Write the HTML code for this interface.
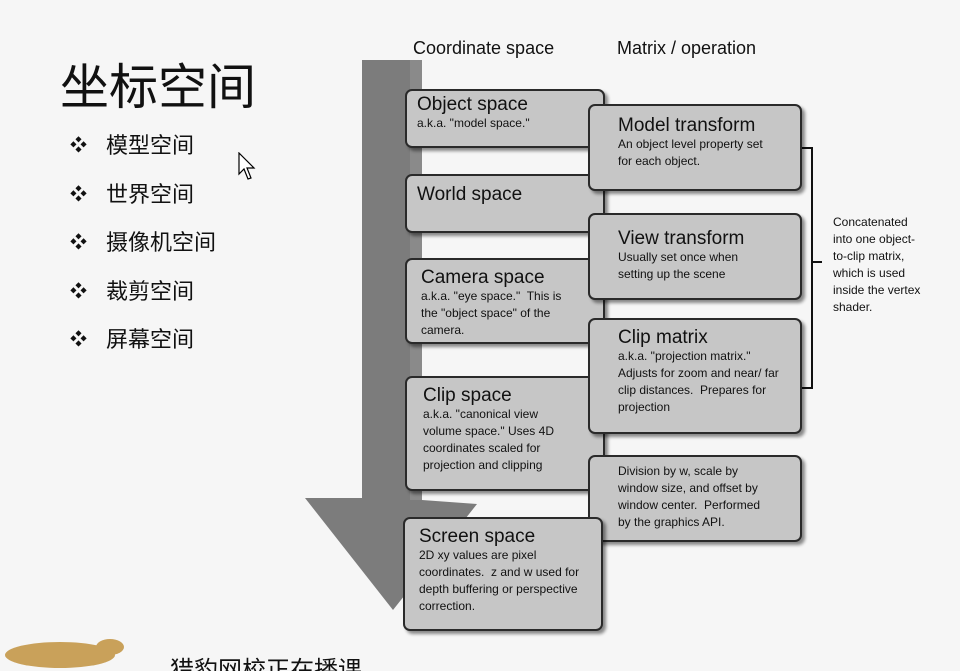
<!DOCTYPE html>
<html><head><meta charset="utf-8"><style>
html,body{margin:0;width:960px;height:671px;overflow:hidden;}
body{background:#f6f6f6;position:relative;font-family:"Liberation Sans",Arial,sans-serif;}
.a{position:absolute;}
.cn{font-family:"Liberation Sans","Noto Sans CJK SC",sans-serif;color:#111;}
.box{position:absolute;background:#c6c6c6;border:2px solid #2a2a2a;border-radius:7px;box-shadow:3px 3px 3px rgba(0,0,0,.45);box-sizing:border-box;color:#111;}
.box b{font-weight:normal;font-size:19px;display:block;line-height:20px;}
.box i{font-style:normal;font-size:12px;line-height:17px;display:block;}
.li{position:absolute;left:70px;font-size:22px;}
.li em{font-style:normal;font-size:17px;}
.li span{position:absolute;left:36px;top:-3px;white-space:nowrap;}
</style></head><body>
<div class="a cn" style="left:60px;top:48px;font-size:49px;">坐标空间</div>
<div class="li cn" style="top:131px"><em>❖</em><span>模型空间</span></div>
<div class="li cn" style="top:180px"><em>❖</em><span>世界空间</span></div>
<div class="li cn" style="top:228px"><em>❖</em><span>摄像机空间</span></div>
<div class="li cn" style="top:277px"><em>❖</em><span>裁剪空间</span></div>
<div class="li cn" style="top:325px"><em>❖</em><span>屏幕空间</span></div>
<svg class="a" style="left:238px;top:152px" width="20" height="30"><path d="M1 1 L1 22 L6 17 L10 27 L13 26 L9 16 L16 16 Z" fill="#fff" stroke="#000" stroke-width="1.2"/></svg>
<div class="a" style="left:413px;top:38px;font-size:18px;color:#111">Coordinate space</div>
<div class="a" style="left:617px;top:38px;font-size:18px;color:#111">Matrix / operation</div>
<svg class="a" style="left:0;top:0" width="960" height="671">
<polygon points="362,60 422,60 422,500 477,504 393,610 305,498 362,498" fill="#7c7c7c"/>
<rect x="410" y="60" width="12" height="440" fill="#8a8a8a"/>
<path d="M801 148 H812 V388 H801 M812 262 H822" stroke="#111" stroke-width="2" fill="none"/>
<ellipse cx="60" cy="655" rx="55" ry="13" fill="#c9a15a"/>
<ellipse cx="110" cy="647" rx="14" ry="8" fill="#c9a15a"/>
</svg>
<div class="box" style="left:405px;top:89px;width:200px;height:59px;padding:4px 10px"><b>Object space</b><i>a.k.a. "model space."</i></div>
<div class="box" style="left:405px;top:174px;width:200px;height:59px;padding:9px 10px"><b>World space</b></div>
<div class="box" style="left:405px;top:258px;width:200px;height:86px;padding:8px 14px"><b>Camera space</b><i style="width:160px">a.k.a. "eye space."&nbsp; This is the "object space" of the camera.</i></div>
<div class="box" style="left:405px;top:376px;width:200px;height:115px;padding:8px 16px"><b>Clip space</b><i style="width:150px">a.k.a. "canonical view volume space." Uses 4D coordinates scaled for projection and clipping</i></div>
<div class="box" style="left:588px;top:104px;width:214px;height:87px;padding:10px 28px"><b>Model transform</b><i style="width:150px">An object level property set for each object.</i></div>
<div class="box" style="left:588px;top:213px;width:214px;height:87px;padding:14px 28px"><b>View transform</b><i style="width:150px">Usually set once when setting up the scene</i></div>
<div class="box" style="left:588px;top:318px;width:214px;height:116px;padding:8px 28px"><b>Clip matrix</b><i style="width:165px">a.k.a. "projection matrix." Adjusts for zoom and near/ far clip distances.&nbsp; Prepares for projection</i></div>
<div class="box" style="left:588px;top:455px;width:214px;height:87px;padding:6px 28px;"><i style="width:155px">Division by w, scale by window size, and offset by window center.&nbsp; Performed by the graphics API.</i></div>
<div class="box" style="left:403px;top:517px;width:200px;height:114px;padding:8px 14px"><b>Screen space</b><i style="width:162px">2D xy values are pixel coordinates.&nbsp; z and w used for depth buffering or perspective correction.</i></div>
<div class="a" style="left:833px;top:214px;font-size:12px;line-height:17px;color:#111;width:92px">Concatenated into one object-to-clip matrix, which is used inside the vertex shader.</div>
<div class="a cn" style="left:170px;top:650px;font-size:24px;">猎豹网校正在播课</div>
</body></html>
